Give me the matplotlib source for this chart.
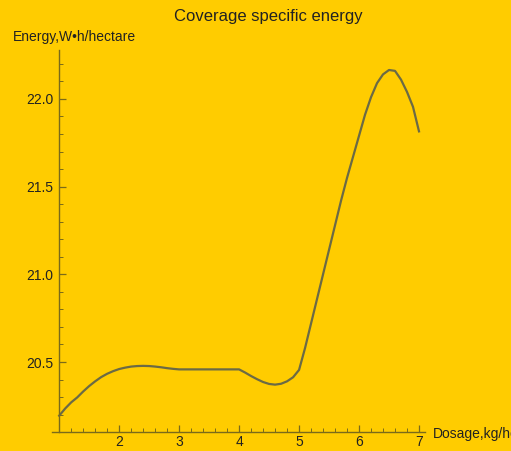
import numpy as np
import matplotlib.pyplot as plt
from matplotlib.ticker import MultipleLocator

# values
dosage = [1.0, 1.1, 1.2, 1.3, 1.4, 1.5, 1.6, 1.7, 1.8, 1.9,
          2.0, 2.1, 2.2, 2.3, 2.4, 2.5, 2.6, 2.7, 2.8, 2.9,
          3.0, 4.0, 4.1, 4.2, 4.3, 4.4, 4.5, 4.6, 4.7, 4.8,
          4.9, 5.0, 5.1, 5.2, 5.3, 5.4, 5.5, 5.6, 5.7, 5.8,
          5.9, 6.0, 6.1, 6.2, 6.3, 6.4, 6.5, 6.6, 6.7, 6.8,
          6.9, 7.0]
energy = [20.194, 20.235, 20.270, 20.298, 20.332, 20.363, 20.390, 20.414, 20.433, 20.448,
          20.460, 20.468, 20.474, 20.477, 20.478, 20.477, 20.474, 20.470, 20.465, 20.461,
          20.458, 20.458, 20.440, 20.420, 20.402, 20.386, 20.375, 20.371, 20.376, 20.390,
          20.413, 20.455, 20.580, 20.720, 20.860, 21.000, 21.140, 21.280, 21.420, 21.550,
          21.670, 21.790, 21.910, 22.010, 22.090, 22.140, 22.165, 22.160, 22.110, 22.040,
          21.955, 21.815]

bg = '#FFCC00'
axis_col = '#7a6a1a'
plt.rcParams['font.family'] = ['Liberation Sans', 'DejaVu Sans']

fig = plt.figure(figsize=(5.11, 4.51), dpi=100, facecolor=bg)
ax = fig.add_axes([52 / 511, 19 / 451, 373 / 511, 382 / 451])
ax.set_facecolor(bg)

ax.plot(dosage, energy, color='#6b6a45', lw=1.6)

ax.set_xlim(0.88, 7.1)
ax.set_ylim(20.101, 22.279)
ax.spines['left'].set_position(('data', 1.0))
ax.spines['top'].set_visible(False)
ax.spines['right'].set_visible(False)
for s in ('left', 'bottom'):
    ax.spines[s].set_color(axis_col)
    ax.spines[s].set_linewidth(1.0)

ax.xaxis.set_major_locator(MultipleLocator(1))
ax.xaxis.set_minor_locator(MultipleLocator(0.2))
ax.yaxis.set_major_locator(MultipleLocator(0.5))
ax.yaxis.set_minor_locator(MultipleLocator(0.1))
ax.set_xticks([2, 3, 4, 5, 6, 7])
ax.tick_params(which='both', direction='in', color=axis_col, labelsize=10, labelcolor='#222222')
ax.tick_params(which='major', length=5, width=0.9)
ax.tick_params(which='minor', length=3, width=0.7)
ax.tick_params(axis='x', pad=2)
ax.tick_params(axis='y', pad=4)
ax.yaxis.set_major_formatter(plt.FormatStrFormatter('%.1f'))

fig.text(268 / 511, 1 - 16 / 451, 'Coverage specific energy', ha='center', va='center',
         fontsize=12, color='#222222')
fig.text(13 / 511, 1 - 37 / 451, 'Energy,W•h/hectare', ha='left', va='center',
         fontsize=10, color='#222222')
fig.text(433 / 511, 1 - 434 / 451, 'Dosage,kg/hectare', ha='left', va='center',
         fontsize=10, color='#222222')

fig.savefig('out.png', dpi=100, facecolor=bg)
